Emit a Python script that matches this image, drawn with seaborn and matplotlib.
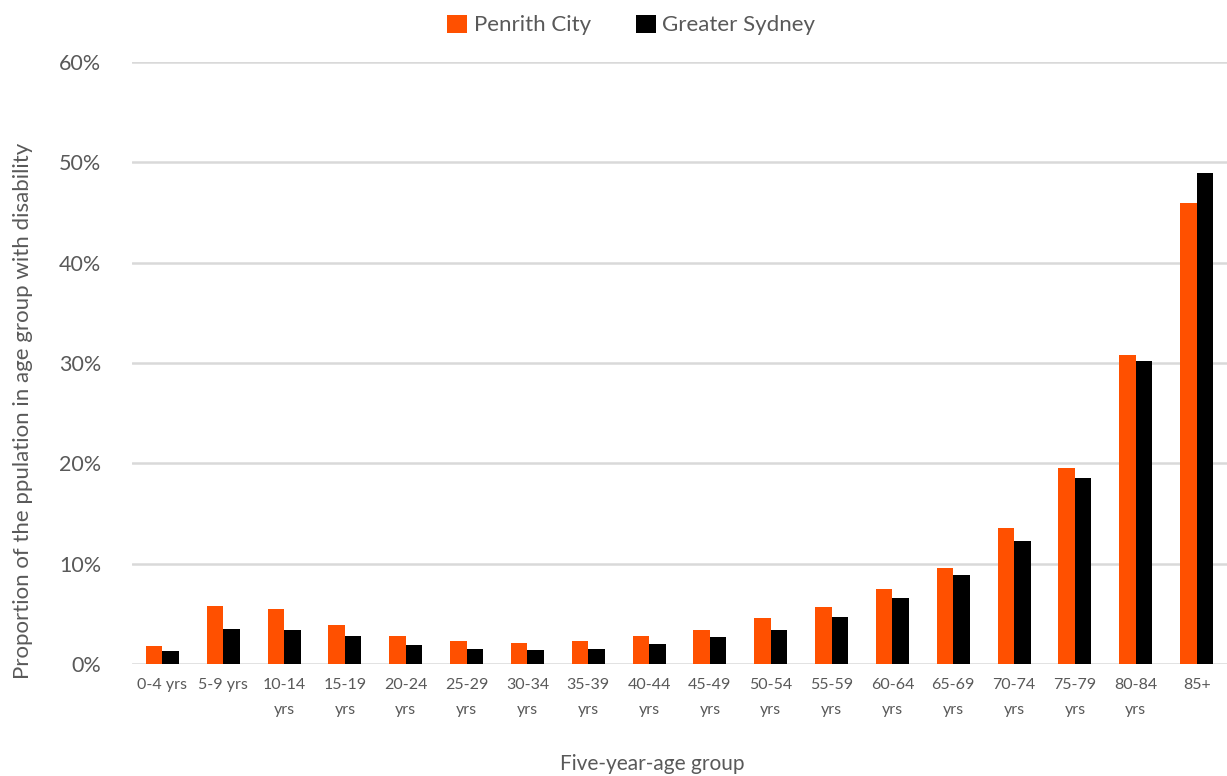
import matplotlib
matplotlib.use("Agg")
import matplotlib.pyplot as plt
import matplotlib.ticker as mticker
import seaborn as sns
import pandas as pd

age_groups = ["0-4 yrs", "5-9 yrs", "10-14\nyrs", "15-19\nyrs", "20-24\nyrs", "25-29\nyrs",
              "30-34\nyrs", "35-39\nyrs", "40-44\nyrs", "45-49\nyrs", "50-54\nyrs", "55-59\nyrs",
              "60-64\nyrs", "65-69\nyrs", "70-74\nyrs", "75-79\nyrs", "80-84\nyrs", "85+"]
penrith = [1.8, 5.8, 5.5, 3.9, 2.8, 2.3, 2.1, 2.3, 2.8, 3.4, 4.6, 5.7, 7.5, 9.6, 13.6, 19.5, 30.8, 45.9]
sydney = [1.3, 3.5, 3.4, 2.8, 1.9, 1.5, 1.4, 1.5, 2.0, 2.7, 3.4, 4.7, 6.6, 8.9, 12.3, 18.5, 30.2, 48.9]
series_names = ["Penrith City", "Greater Sydney"]
colors = ["#FF5000", "#000000"]

df = pd.DataFrame({
    "age": age_groups * 2,
    "value": penrith + sydney,
    "series": [series_names[0]] * len(age_groups) + [series_names[1]] * len(age_groups),
})

sns.set_theme(style="white")
plt.rcParams["font.family"] = ["Lato", "DejaVu Sans"]
text_color = "#595959"

fig = plt.figure(figsize=(12.27, 7.76), dpi=100)
ax = fig.add_axes([132 / 1227, 1 - 664 / 776, (1227 - 132) / 1227, (664 - 62) / 776])

sns.barplot(data=df, x="age", y="value", hue="series", palette=colors,
            width=0.54, gap=0, ax=ax, saturation=1, edgecolor="none")

ax.set_ylim(0, 60)
ax.set_xlim(-0.5, len(age_groups) - 0.5)
ax.yaxis.set_major_locator(mticker.MultipleLocator(10))
ax.yaxis.set_major_formatter(mticker.FuncFormatter(lambda v, p: f"{v:.0f}%"))
ax.grid(axis="y", color="#D9D9D9", linewidth=1.8)
ax.set_axisbelow(True)
for s in ax.spines.values():
    s.set_visible(False)
ax.tick_params(axis="both", length=0, colors=text_color)
ax.tick_params(axis="y", labelsize=15.5, pad=22)
ax.tick_params(axis="x", labelsize=11.5, pad=10)
for lbl in ax.get_xticklabels():
    lbl.set_linespacing(2.0)

ax.set_xlabel("Five-year-age group", fontsize=15, color=text_color)
ax.xaxis.set_label_coords(0.475, -0.15)
ax.set_ylabel("Proportion of the ppulation in age group with disability", fontsize=16,
              color=text_color)
ax.yaxis.set_label_coords(-0.09, 0.42)

leg = ax.legend(loc="upper center", bbox_to_anchor=(0.456, 1.112), ncol=2, frameon=False,
                fontsize=16, handlelength=0.9, handleheight=0.9, handletextpad=0.3,
                columnspacing=2.0, labelcolor=text_color)
leg.set_title(None)

fig.savefig("out.png", dpi=100)
